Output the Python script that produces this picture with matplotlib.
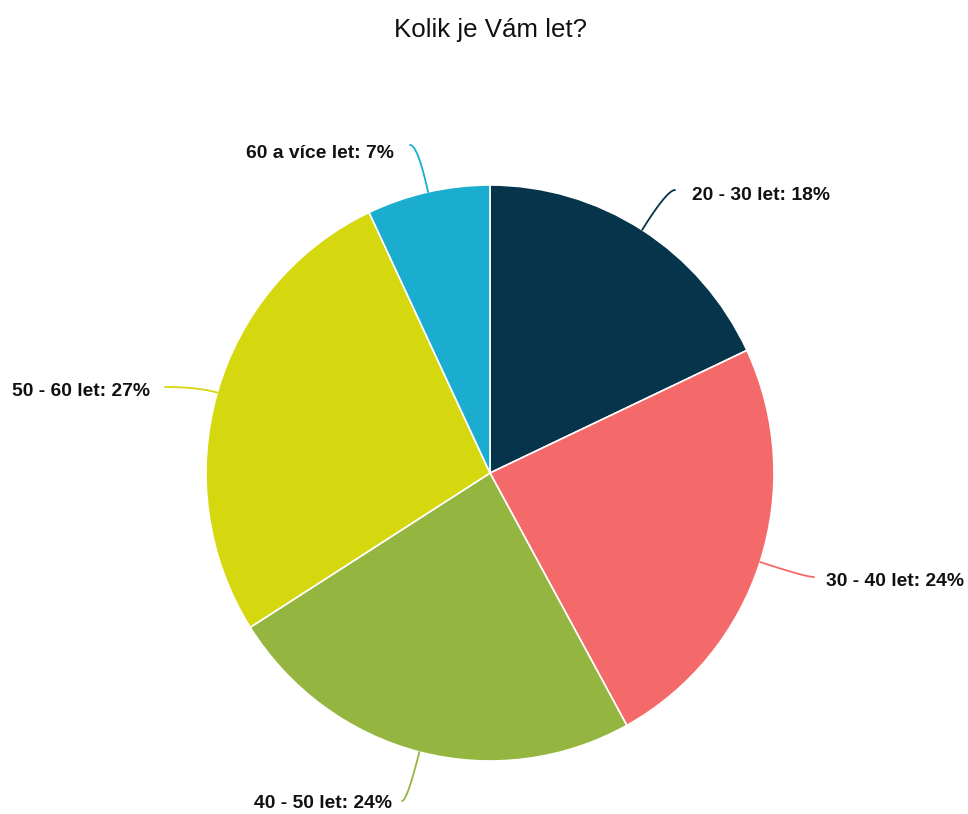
import numpy as np
import matplotlib
matplotlib.use("Agg")
import matplotlib.pyplot as plt

# age groups and their shares
labels = ["20 - 30 let", "30 - 40 let", "40 - 50 let", "50 - 60 let", "60 a více let"]
shares = [18, 24, 24, 27, 7]
colors = ["#06344a", "#f46a6a", "#94b640", "#d6d80f", "#1badd0"]

W, H = 968, 814
cx, cy, R = 490, 473, 284
k = 288 / 284  # slight vertical stretch of the pie

# label anchors and connector end points, in pixels from top-left
label_pos = [(692, 196), (826, 581), (392, 803), (150, 392), (394, 153)]
label_ha = ["left", "left", "right", "right", "right"]
conn_end = [(675, 190), (814, 577), (402, 801), (165, 387), (410, 145)]


def py(y):
    return (H - y) / k


plt.rcParams["font.family"] = ["Liberation Sans", "DejaVu Sans"]

fig = plt.figure(figsize=(W / 100, H / 100), dpi=100)
ax = fig.add_axes([0, 0, 1, 1])

ax.pie(shares, colors=colors, startangle=90, counterclock=False,
       center=(cx, py(cy)), radius=R,
       wedgeprops=dict(edgecolor="white", linewidth=1.2))
ax.set_aspect("auto")
ax.set_xlim(0, W)
ax.set_ylim(0, H / k)
ax.axis("off")

# connectors: quadratic curve from slice edge, radial first, then flattening out
total = sum(shares)
start = 90.0
for i, v in enumerate(shares):
    sweep = 360.0 * v / total
    mid = np.radians(start - sweep / 2)
    start -= sweep
    dx, dy = np.cos(mid), np.sin(mid)
    p0 = np.array([cx + R * dx, py(cy) + R * dy])
    ex, ey = conn_end[i]
    p2 = np.array([ex, py(ey)])
    t = (p2[1] - p0[1]) / dy
    p1 = p0 + t * np.array([dx, dy])
    s = np.linspace(0, 1, 40)[:, None]
    curve = (1 - s) ** 2 * p0 + 2 * (1 - s) * s * p1 + s ** 2 * p2
    ax.plot(curve[:, 0], curve[:, 1], color=colors[i], lw=1.3,
            solid_capstyle="round")
    lx, ly = label_pos[i]
    ax.text(lx, py(ly), "%s: %d%%" % (labels[i], v), ha=label_ha[i],
            va="center", fontsize=13.9, fontweight="bold", color="#111111")

ax.text(W / 2 + 7, py(30), "Kolik je Vám let?", ha="center", va="center",
        fontsize=18.6, color="#111111")

fig.savefig("out.png", dpi=100)
